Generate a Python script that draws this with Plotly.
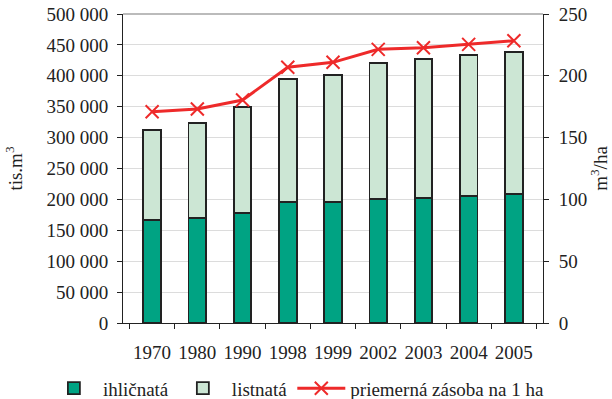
import plotly.graph_objects as go

years = ["1970", "1980", "1990", "1998", "1999", "2002", "2003", "2004", "2005"]
ihlicnata = [166700, 169400, 178500, 195300, 195300, 201200, 201800, 205500, 208200]
celkom = [312300, 323100, 349000, 395300, 401800, 421200, 427200, 433100, 439000]
listnata = [c - i for c, i in zip(celkom, ihlicnata)]
zasoba = [170.9, 173.1, 180.4, 206.9, 210.9, 221.4, 222.7, 225.4, 228.4]

left_ticks = list(range(0, 500001, 50000))
left_labels = [f"{v:,}".replace(",", " ") for v in left_ticks]

FONT = "Liberation Serif, Times New Roman, serif"
TF = dict(family=FONT, size=19, color="#222222")
fig = go.Figure()
fig.add_trace(go.Bar(x=years, y=ihlicnata, name="ihličnatá",
                     marker=dict(color="#00A383", line=dict(color="#222222", width=1.8))))
fig.add_trace(go.Bar(x=years, y=listnata, name="listnatá",
                     marker=dict(color="#CCE6D4", line=dict(color="#222222", width=1.8))))
fig.add_trace(go.Scatter(x=years, y=zasoba, name="priemerná zásoba na 1 ha", yaxis="y2",
                         mode="lines+markers",
                         line=dict(color="#EE2A2A", width=3),
                         marker=dict(symbol="x-thin", size=13, line=dict(color="#EE2A2A", width=2))))

fig.update_layout(
    width=612, height=399,
    margin=dict(l=123, r=69, t=14, b=76, autoexpand=False),
    barmode="stack", bargap=0.61,
    plot_bgcolor="white", paper_bgcolor="white",
    font=TF,
    showlegend=True,
    legend=dict(orientation="h", x=-0.186, xanchor="left", y=-0.15, yanchor="top",
                font=TF, traceorder="normal", itemwidth=48, tracegroupgap=0),
    xaxis=dict(showline=True, linecolor="#222222", linewidth=1, ticks="outside",
               tickson="boundaries", ticklen=5, tickcolor="#222222", showgrid=False,
               tickfont=TF, ticklabelstandoff=12, automargin=False, tickangle=0),
    yaxis=dict(range=[0, 500000], tickvals=left_ticks, ticktext=left_labels,
               showline=True, linecolor="#222222", linewidth=1, ticks="outside",
               ticklen=5, tickcolor="#222222", showgrid=True, gridcolor="#DCDCDC",
               zeroline=False, tickfont=TF, automargin=False, ticklabelstandoff=5,
               ticklabeloverflow="allow",
               title=dict(text="tis.m<sup>3</sup>", font=TF, standoff=18)),
    yaxis2=dict(range=[0, 250], tickvals=list(range(0, 251, 50)), overlaying="y", side="right",
                showline=True, linecolor="#222222", linewidth=1, ticks="outside",
                ticklen=5, tickcolor="#222222", showgrid=False, zeroline=False,
                tickfont=TF, automargin=False, ticklabelstandoff=6,
                ticklabeloverflow="allow",
                title=dict(text="m<sup>3</sup>/ha", font=TF, standoff=0)),
)
fig.add_shape(type="line", xref="paper", yref="paper", x0=0, x1=1, y0=1, y1=1,
              line=dict(color="#BBBBBB", width=2))
fig.write_html("out.html", config={"displayModeBar": False},
               post_script="document.body.style.margin='0';")
